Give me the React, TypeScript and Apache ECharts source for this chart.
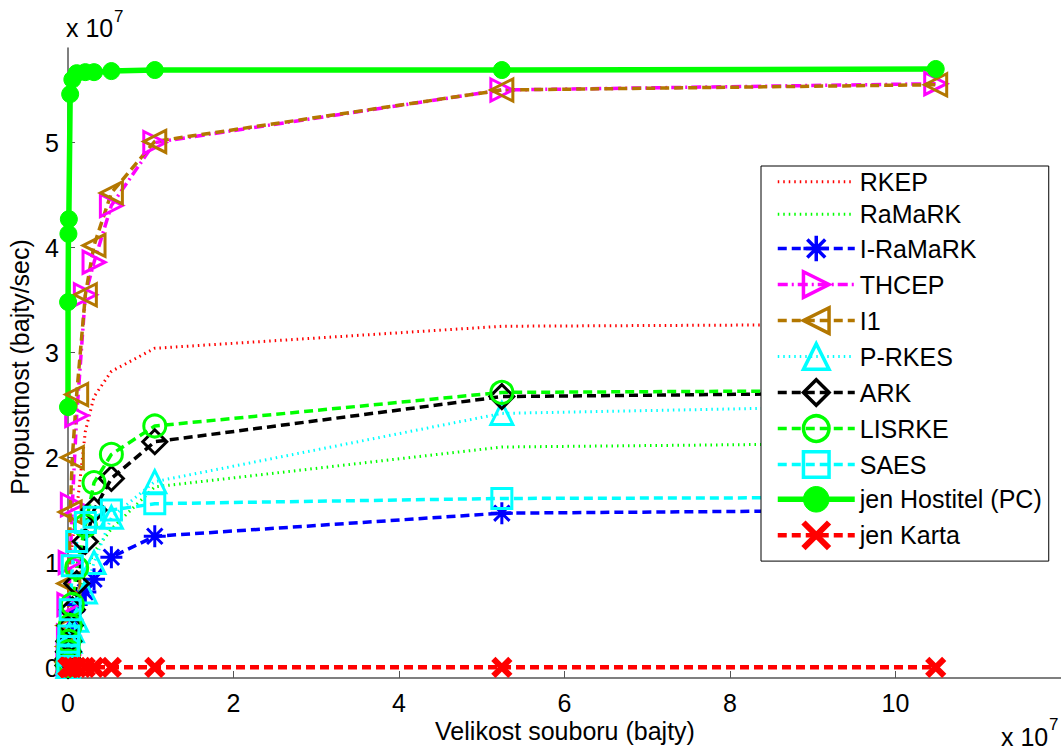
import React, { useEffect, useRef } from "react";
import * as echarts from "echarts";

// File sizes in bytes (x axis)
const fileSizes = [1024, 10240, 51200, 102400, 262144, 524288, 1048576, 2097152, 3145728, 5242880, 10485760, 52428800, 104857600];

// Throughput values in bytes/sec
const rkep = [0.05e7, 0.2e7, 0.4e7, 0.6e7, 0.9e7, 1.2e7, 1.5e7, 2.25e7, 2.58e7, 2.82e7, 3.04e7, 3.25e7, 3.27e7];
const ramark = [0.02e7, 0.08e7, 0.15e7, 0.25e7, 0.35e7, 0.45e7, 0.6e7, 0.9e7, 1.1e7, 1.32e7, 1.72e7, 2.1e7, 2.14e7];
const iRamark = [0.01e7, 0.05e7, 0.12e7, 0.2e7, 0.3e7, 0.45e7, 0.6e7, 0.72e7, 0.84e7, 1.05e7, 1.25e7, 1.47e7, 1.5e7];
const thcep = [0.03e7, 0.12e7, 0.3e7, 0.6e7, 1.0e7, 1.55e7, 2.4e7, 3.55e7, 3.86e7, 4.4e7, 5.0e7, 5.5e7, 5.56e7];
const i1 = [0.05e7, 0.2e7, 0.4e7, 0.8e7, 1.48e7, 2.0e7, 2.6e7, 3.55e7, 4.02e7, 4.52e7, 5.01e7, 5.5e7, 5.55e7];
const pRkes = [0.01e7, 0.05e7, 0.1e7, 0.15e7, 0.25e7, 0.35e7, 0.45e7, 0.72e7, 1.0e7, 1.43e7, 1.77e7, 2.42e7, 2.5e7];
const ark = [0.02e7, 0.08e7, 0.15e7, 0.25e7, 0.4e7, 0.55e7, 0.8e7, 1.2e7, 1.5e7, 1.8e7, 2.15e7, 2.58e7, 2.62e7];
const lisrke = [0.02e7, 0.06e7, 0.15e7, 0.25e7, 0.4e7, 0.6e7, 0.95e7, 1.35e7, 1.76e7, 2.03e7, 2.3e7, 2.62e7, 2.64e7];
const saes = [0.05e7, 0.12e7, 0.2e7, 0.3e7, 0.55e7, 0.97e7, 1.2e7, 1.38e7, 1.43e7, 1.5e7, 1.56e7, 1.61e7, 1.62e7];
const jenHostitel = [2.48e7, 3.48e7, 4.13e7, 4.27e7, 5.46e7, 5.6e7, 5.66e7, 5.67e7, 5.67e7, 5.68e7, 5.69e7, 5.69e7, 5.7e7];
const jenKarta = [0.001e7, 0.001e7, 0.002e7, 0.002e7, 0.002e7, 0.002e7, 0.002e7, 0.002e7, 0.002e7, 0.002e7, 0.002e7, 0.002e7, 0.002e7];

const xTicks = [0, 2e7, 4e7, 6e7, 8e7, 10e7];
const yTicks = [0, 1e7, 2e7, 3e7, 4e7, 5e7];

const FONT = "Liberation Sans, Arial, Helvetica, sans-serif";

const TRI_RIGHT = "path://M0,0 L100,50 L0,100 Z";
const TRI_LEFT = "path://M100,0 L0,50 L100,100 Z";
const ASTERISK = "path://M50,0 L50,100 M0,50 L100,50 M15,15 L85,85 M85,15 L15,85";
const CROSS = "path://M0,0 L100,100 M100,0 L0,100";

const DASH = [9, 5];
const DOT = [1.5, 4];
const DASHDOT = [10, 4, 2, 4];

type Def = {
  name: string;
  values: number[];
  color: string;
  type: any;
  width: number;
  symbol: string;
  size: number;
  filled?: boolean;
  border?: number;
};

const defs: Def[] = [
  { name: "RKEP", values: rkep, color: "#ff0000", type: DOT, width: 3, symbol: "none", size: 0 },
  { name: "RaMaRK", values: ramark, color: "#00ff00", type: DOT, width: 3, symbol: "none", size: 0 },
  { name: "I-RaMaRK", values: iRamark, color: "#0000ff", type: DASH, width: 3.5, symbol: ASTERISK, size: 22 },
  { name: "THCEP", values: thcep, color: "#ff00ff", type: DASHDOT, width: 3.5, symbol: TRI_RIGHT, size: 22 },
  { name: "I1", values: i1, color: "#b37700", type: DASH, width: 3.5, symbol: TRI_LEFT, size: 22 },
  { name: "P-RKES", values: pRkes, color: "#00ffff", type: DOT, width: 3, symbol: "triangle", size: 22 },
  { name: "ARK", values: ark, color: "#000000", type: DASH, width: 3.5, symbol: "diamond", size: 24 },
  { name: "LISRKE", values: lisrke, color: "#00ff00", type: DASH, width: 3.5, symbol: "circle", size: 22 },
  { name: "SAES", values: saes, color: "#00ffff", type: DASH, width: 3.5, symbol: "rect", size: 20 },
  { name: "jen Hostitel (PC)", values: jenHostitel, color: "#00ff00", type: "solid", width: 5.5, symbol: "circle", size: 17, filled: true },
  { name: "jen Karta", values: jenKarta, color: "#ff0000", type: DASH, width: 4.5, symbol: CROSS, size: 17, border: 6 },
];

export default function App() {
  const ref = useRef<HTMLDivElement>(null);

  useEffect(() => {
    if (!ref.current) return;
    const chart = echarts.init(ref.current, undefined, { renderer: "svg" });

    const markerStyle = (d: Def) =>
      d.symbol === "none"
        ? { color: "rgba(255,255,255,0)", borderColor: "rgba(255,255,255,0)", borderWidth: 0, opacity: 0 }
        : d.filled
        ? { color: d.color, borderColor: d.color, borderWidth: 1 }
        : { color: "rgba(255,255,255,0)", borderColor: d.color, borderWidth: d.border ?? 3.5 };

    const series = defs.map((d) => ({
      name: d.name,
      type: "line",
      data: fileSizes.map((x, i) => [x, d.values[i]]),
      symbol: d.symbol,
      symbolSize: d.size,
      showSymbol: d.symbol !== "none",
      clip: false,
      lineStyle: { color: d.color, width: d.width, type: d.type },
      itemStyle: d.filled
        ? { color: d.color, borderColor: d.color, borderWidth: 1 }
        : { color: "rgba(255,255,255,0)", borderColor: d.color, borderWidth: d.border ?? 3 },
      emphasis: { disabled: true },
      silent: true,
    }));

    chart.setOption({
      animation: false,
      backgroundColor: "#ffffff",
      grid: { left: 68, top: 48, right: 0, bottom: 71, containLabel: false },
      xAxis: {
        type: "value",
        min: 0,
        max: 1.2e8,
        axisLine: { onZero: false, lineStyle: { color: "#555555", width: 1.5 } },
        axisTick: { show: true, inside: true, length: 7, customValues: xTicks, lineStyle: { color: "#555555", width: 1 } },
        axisLabel: {
          customValues: xTicks,
          formatter: (v: number) => String(Math.round(v / 1e7)),
          fontSize: 25,
          fontFamily: FONT,
          color: "#000",
          margin: 12,
        },
        splitLine: { show: false },
      },
      yAxis: {
        type: "value",
        min: -1e6,
        max: 5.9e7,
        axisLine: { show: true, onZero: false, lineStyle: { color: "#555555", width: 1.5 } },
        axisTick: { show: true, inside: true, length: 7, customValues: yTicks, lineStyle: { color: "#555555", width: 1 } },
        axisLabel: {
          customValues: yTicks,
          formatter: (v: number) => String(Math.round(v / 1e7)),
          fontSize: 25,
          fontFamily: FONT,
          color: "#000",
          margin: 9,
        },
        splitLine: { show: false },
      },
      legend: {
        orient: "vertical",
        left: 761,
        top: 166,
        padding: [3, 7, 10, 14],
        itemWidth: 77,
        itemHeight: 32,
        itemGap: 6.9,
        borderColor: "#000",
        borderWidth: 1,
        backgroundColor: "#ffffff",
        textStyle: { fontSize: 25, fontFamily: FONT, color: "#000" },
        data: defs.map((d) => ({
          name: d.name,
          lineStyle: { color: d.color, width: d.width, type: d.type },
          itemStyle: markerStyle(d),
        })),
        selectedMode: false,
      },
      graphic: [
        { type: "text", x: 66, y: 40, style: { text: "x 10", font: `25px ${FONT}`, fill: "#000", align: "left", verticalAlign: "bottom" } },
        { type: "text", x: 114, y: 8, style: { text: "7", font: `17px ${FONT}`, fill: "#000", align: "left", verticalAlign: "top" } },
        { type: "text", x: 1001, y: 749, style: { text: "x 10", font: `25px ${FONT}`, fill: "#000", align: "left", verticalAlign: "bottom" } },
        { type: "text", x: 1049, y: 716, style: { text: "7", font: `17px ${FONT}`, fill: "#000", align: "left", verticalAlign: "top" } },
        {
          type: "text",
          x: 20,
          y: 367,
          rotation: Math.PI / 2,
          style: { text: "Propustnost (bajty/sec)", font: `25px ${FONT}`, fill: "#000", align: "center", verticalAlign: "middle" },
        },
        {
          type: "text",
          x: 565,
          y: 731,
          style: { text: "Velikost souboru (bajty)", font: `25px ${FONT}`, fill: "#000", align: "center", verticalAlign: "middle" },
        },
      ],
      series,
    });

    return () => chart.dispose();
  }, []);

  return <div ref={ref} style={{ position: "absolute", left: 0, top: 0, width: 1061, height: 749 }} />;
}
